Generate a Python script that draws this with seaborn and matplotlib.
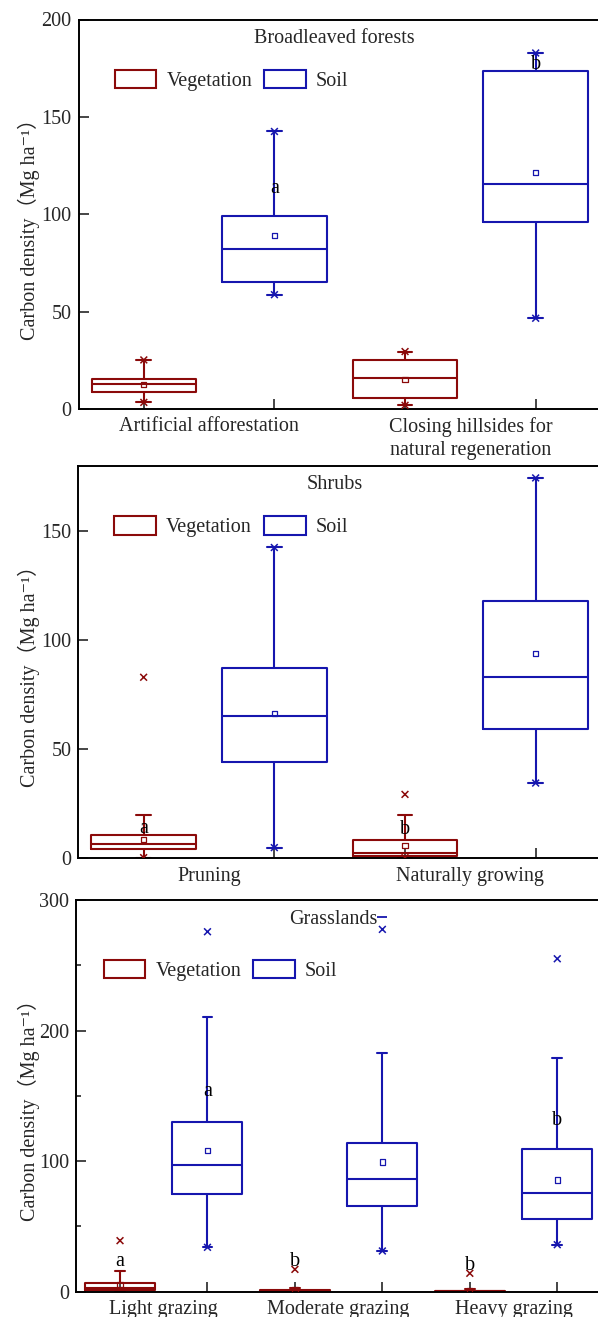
import numpy as np
import pandas as pd
import matplotlib
matplotlib.use("Agg")
import matplotlib.pyplot as plt
import seaborn as sns
from matplotlib.patches import Patch

# ---------------- data ----------------
COMPONENTS = ["Vegetation", "Soil"]
COLORS = ["#8B0A0A", "#1616AE"]
YLABEL = "Carbon density（Mg ha⁻¹）"

# five-number summaries: [lower whisker, Q1, median, Q3, upper whisker]
BF_TITLE = "Broadleaved forests"
BF_CATEGORIES = ["Artificial afforestation", "Closing hillsides for\nnatural regeneration"]
BF_VEG_BOX = [[3.4, 8.6, 12.7, 15.4, 25.2], [1.9, 5.8, 15.9, 25.2, 29.5]]
BF_SOIL_BOX = [[58.7, 65.1, 81.9, 99.2, 142.5], [46.6, 95.8, 115.3, 173.4, 182.8]]
BF_VEG_MEAN = [12.6, 15.3]
BF_SOIL_MEAN = [89.1, 121.3]
BF_VEG_CROSS = [[3.4, 25.2], [1.9, 29.5]]
BF_SOIL_CROSS = [[58.7, 142.5], [46.6, 182.8]]
BF_VEG_DASH = [[], []]
BF_SOIL_DASH = [[], []]
BF_VEG_LETTER = [None, None]
BF_VEG_LETTER_Y = [None, None]
BF_SOIL_LETTER = ["a", "b"]
BF_SOIL_LETTER_Y = [113, 177]
BF_YTICKS = [0, 50, 100, 150, 200]
BF_YMINOR = []
BF_YLIM = (0, 200)

SH_TITLE = "Shrubs"
SH_CATEGORIES = ["Pruning", "Naturally growing"]
SH_VEG_BOX = [[0.3, 4.1, 6.4, 10.7, 19.8], [0.3, 1.1, 2.3, 8.4, 19.8]]
SH_SOIL_BOX = [[4.9, 44.3, 65.1, 87.4, 142.5], [34.5, 59.4, 83.1, 117.9, 174.4]]
SH_VEG_MEAN = [8.7, 5.8]
SH_SOIL_MEAN = [66.3, 93.8]
SH_VEG_CROSS = [[83.0, 0.3], [29.3, 0.3]]
SH_SOIL_CROSS = [[4.9, 142.5], [34.5, 174.4]]
SH_VEG_DASH = [[], []]
SH_SOIL_DASH = [[], []]
SH_VEG_LETTER = ["a", "b"]
SH_VEG_LETTER_Y = [13.7, 13.4]
SH_SOIL_LETTER = [None, None]
SH_SOIL_LETTER_Y = [None, None]
SH_YTICKS = [0, 50, 100, 150]
SH_YMINOR = []
SH_YLIM = (0, 180)

GR_TITLE = "Grasslands"
GR_CATEGORIES = ["Light grazing", "Moderate grazing", "Heavy grazing"]
GR_VEG_BOX = [[0.0, 1.0, 3.0, 7.0, 15.9], [0.0, 0.2, 0.5, 1.2, 3.0], [0.0, 0.1, 0.3, 0.8, 2.0]]
GR_SOIL_BOX = [[34.0, 74.6, 97.3, 130.0, 210.6], [31.2, 65.6, 86.6, 114.2, 182.8],
               [36.0, 55.4, 75.6, 109.5, 179.0]]
GR_VEG_MEAN = [5.5, 1.5, 1.2]
GR_SOIL_MEAN = [108.0, 99.3, 85.5]
GR_VEG_CROSS = [[39.1], [17.1], [14.1]]
GR_SOIL_CROSS = [[275.7, 34.0], [277.5, 31.2], [255.0, 36.0]]
GR_VEG_DASH = [[], [], []]
GR_SOIL_DASH = [[], [287.2], []]
GR_VEG_LETTER = ["a", "b", "b"]
GR_VEG_LETTER_Y = [23.0, 23.5, 20.4]
GR_SOIL_LETTER = ["a", None, "b"]
GR_SOIL_LETTER_Y = [153.0, None, 131.5]
GR_YTICKS = [0, 100, 200, 300]
GR_YMINOR = [50, 150, 250]
GR_YLIM = (0, 300)

# ---------------- style ----------------
sns.set_style("ticks")
FAMILY = ["Liberation Serif", "DejaVu Serif", "Noto Sans CJK SC"]
plt.rcParams["font.family"] = FAMILY

FS = 14.5
W, H = 598, 1317
DODGE = 0.5
LW = 1.5

# axes boxes in pixels: left, right, top, bottom ; legend anchor (x, y axes fraction)
LAYOUT = [
    dict(px=(78.5, 601, 19.5, 409), leg=(0.069, 0.844)),
    dict(px=(78.3, 601, 465.7, 858.3), leg=(0.069, 0.844)),
    dict(px=(76.3, 601, 900, 1291.7), leg=(0.052, 0.819)),
]

PANELS = [
    dict(title=BF_TITLE, cats=BF_CATEGORIES, box=[BF_VEG_BOX, BF_SOIL_BOX],
         mean=[BF_VEG_MEAN, BF_SOIL_MEAN], cross=[BF_VEG_CROSS, BF_SOIL_CROSS],
         dash=[BF_VEG_DASH, BF_SOIL_DASH], letter=[BF_VEG_LETTER, BF_SOIL_LETTER],
         letter_y=[BF_VEG_LETTER_Y, BF_SOIL_LETTER_Y], yticks=BF_YTICKS,
         yminor=BF_YMINOR, ylim=BF_YLIM),
    dict(title=SH_TITLE, cats=SH_CATEGORIES, box=[SH_VEG_BOX, SH_SOIL_BOX],
         mean=[SH_VEG_MEAN, SH_SOIL_MEAN], cross=[SH_VEG_CROSS, SH_SOIL_CROSS],
         dash=[SH_VEG_DASH, SH_SOIL_DASH], letter=[SH_VEG_LETTER, SH_SOIL_LETTER],
         letter_y=[SH_VEG_LETTER_Y, SH_SOIL_LETTER_Y], yticks=SH_YTICKS,
         yminor=SH_YMINOR, ylim=SH_YLIM),
    dict(title=GR_TITLE, cats=GR_CATEGORIES, box=[GR_VEG_BOX, GR_SOIL_BOX],
         mean=[GR_VEG_MEAN, GR_SOIL_MEAN], cross=[GR_VEG_CROSS, GR_SOIL_CROSS],
         dash=[GR_VEG_DASH, GR_SOIL_DASH], letter=[GR_VEG_LETTER, GR_SOIL_LETTER],
         letter_y=[GR_VEG_LETTER_Y, GR_SOIL_LETTER_Y], yticks=GR_YTICKS,
         yminor=GR_YMINOR, ylim=GR_YLIM),
]


def long_frame(cats, series_by_comp):
    rows = []
    for i, cat in enumerate(cats):
        for j, comp in enumerate(COMPONENTS):
            vals = series_by_comp[j][i]
            if not isinstance(vals, (list, tuple)):
                vals = [vals]
            for v in vals:
                rows.append(dict(category=cat, component=comp, value=v,
                                 pos=i + (j - 0.5) * DODGE))
    return pd.DataFrame(rows, columns=["category", "component", "value", "pos"])


fig = plt.figure(figsize=(W / 100, H / 100), dpi=100)

for panel, lay in zip(PANELS, LAYOUT):
    l, r, t, b = lay["px"]
    ax = fig.add_axes([l / W, 1 - b / H, (r - l) / W, (b - t) / H])
    cats = panel["cats"]
    n = len(cats)

    box_df = long_frame(cats, panel["box"])
    sns.boxplot(data=box_df, x="category", y="value", hue="component",
                order=cats, hue_order=COMPONENTS, palette=COLORS, fill=False,
                width=1.0, gap=0.2, whis=(0, 100), linewidth=LW,
                capwidths=0.056, legend=False, ax=ax)

    cross_df = long_frame(cats, panel["cross"])
    if len(cross_df):
        sns.scatterplot(data=cross_df, x="pos", y="value", hue="component",
                        hue_order=COMPONENTS, palette=COLORS, marker="x", s=24,
                        linewidth=1.1, legend=False, ax=ax, zorder=4)
    dash_df = long_frame(cats, panel["dash"])
    if len(dash_df):
        sns.scatterplot(data=dash_df, x="pos", y="value", hue="component",
                        hue_order=COMPONENTS, palette=COLORS, marker="_", s=45,
                        linewidth=1.3, legend=False, ax=ax, zorder=4)

    mean_df = long_frame(cats, panel["mean"])
    sns.scatterplot(data=mean_df, x="pos", y="value", hue="component",
                    hue_order=COMPONENTS, palette=COLORS, marker="s", s=14,
                    legend=False, ax=ax, zorder=5)
    coll = ax.collections[-1]
    coll.set_edgecolors(coll.get_facecolors())
    coll.set_facecolors("none")
    coll.set_linewidths(0.9)

    # significance letters
    for j in range(len(COMPONENTS)):
        for i in range(n):
            lab = panel["letter"][j][i]
            if lab is not None:
                ax.text(i + (j - 0.5) * DODGE, panel["letter_y"][j][i], lab,
                        ha="center", va="center", fontsize=FS, color="black", zorder=6)

    ax.set_xlim(-0.5, n - 0.5)
    ax.set_ylim(*panel["ylim"])
    ax.set_xticks(range(n))
    ax.set_xticklabels(cats, fontsize=FS, linespacing=1.3)
    ax.set_xticks([i + (j - 0.5) * DODGE for i in range(n) for j in range(2)], minor=True)
    ax.set_yticks(panel["yticks"])
    ax.set_yticklabels([str(v) for v in panel["yticks"]], fontsize=FS)
    ax.set_yticks(panel["yminor"], minor=True)
    ax.tick_params(axis="x", which="major", length=0, pad=6)
    ax.tick_params(axis="x", which="minor", direction="in", length=7, width=1.2)
    ax.tick_params(axis="y", which="major", direction="in", length=7, width=1.2, pad=5)
    ax.tick_params(axis="y", which="minor", direction="in", length=3.5, width=1.2)
    ax.set_xlabel("")
    ax.set_ylabel(YLABEL, fontsize=FS, family=FAMILY)
    ax.yaxis.set_label_coords((40 - l) / (r - l), 0.475)

    for side in ["top", "left", "bottom"]:
        ax.spines[side].set_visible(True)
        ax.spines[side].set_linewidth(1.4)
        ax.spines[side].set_color("black")
    ax.spines["right"].set_visible(False)

    ax.text(0.49, 0.94, panel["title"], transform=ax.transAxes, ha="center",
            va="baseline", fontsize=FS)

    handles = [Patch(facecolor="none", edgecolor=c, linewidth=LW, label=name)
               for name, c in zip(COMPONENTS, COLORS)]
    ax.legend(handles=handles, loc="center left", bbox_to_anchor=lay["leg"],
              ncol=2, frameon=False, fontsize=FS, handlelength=2.07,
              handleheight=1.0, handletextpad=0.5, columnspacing=0.6,
              borderpad=0, borderaxespad=0)

fig.savefig("out.png", dpi=100)
